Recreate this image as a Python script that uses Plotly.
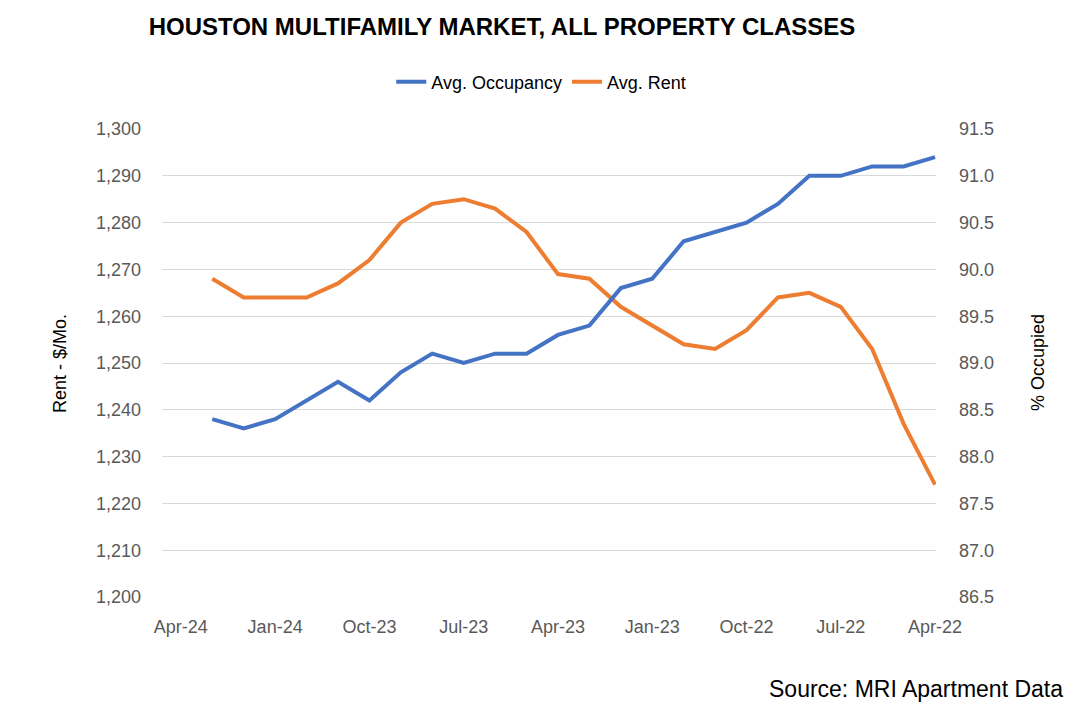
import plotly.graph_objects as go

# Monthly points, Apr-22 (index 0) through Mar-24 (index 23)
month_index = list(range(24))
avg_rent = [1224, 1237, 1253, 1262, 1265, 1264, 1257, 1253, 1254, 1258, 1262, 1268,
            1269, 1278, 1283, 1285, 1284, 1280, 1272, 1267, 1264, 1264, 1264, 1268]
avg_occupancy = [91.2, 91.1, 91.1, 91.0, 91.0, 90.7, 90.5, 90.4, 90.3, 89.9, 89.8, 89.4,
                 89.3, 89.1, 89.1, 89.0, 89.1, 88.9, 88.6, 88.8, 88.6, 88.4, 88.3, 88.4]
tick_positions = [0, 3, 6, 9, 12, 15, 18, 21, 24]
tick_labels = ["Apr-22", "Jul-22", "Oct-22", "Jan-23", "Apr-23", "Jul-23", "Oct-23", "Jan-24", "Apr-24"]

BLUE = "#4472C4"
ORANGE = "#ED7D31"
FONT = "Liberation Sans, Arial, sans-serif"
GREY = "#595959"

fig = go.Figure()
fig.add_trace(go.Scatter(x=month_index, y=avg_occupancy, name="Avg. Occupancy", mode="lines",
                         line=dict(color=BLUE, width=4), yaxis="y2"))
fig.add_trace(go.Scatter(x=month_index, y=avg_rent, name="Avg. Rent", mode="lines",
                         line=dict(color=ORANGE, width=4), yaxis="y"))

fig.update_layout(
    width=1082, height=710,
    margin=dict(l=154, r=154, t=121, b=121),
    paper_bgcolor="white", plot_bgcolor="white",
    font=dict(family=FONT, size=18, color=GREY),
    title=dict(text="<b>HOUSTON MULTIFAMILY MARKET, ALL PROPERTY CLASSES</b>",
               x=494 / 1082, xanchor="center", y=1 - 19 / 710, yanchor="middle",
               font=dict(family=FONT, size=24, color="black")),
    legend=dict(orientation="h", x=0.49, xanchor="center", y=(597 - 82) / 468, yanchor="middle",
                font=dict(size=18, color="black"), bgcolor="rgba(0,0,0,0)"),
    showlegend=True,
    xaxis=dict(range=[24.6, -0.03], tickmode="array", tickvals=tick_positions, ticktext=tick_labels,
               showgrid=False, zeroline=False, showline=False, ticks="",
               ticklabelstandoff=17, tickfont=dict(size=18, color=GREY)),
    yaxis=dict(range=[1200, 1300], dtick=10, tickformat=",", showgrid=True, gridcolor="#D9D9D9",
               gridwidth=1, zeroline=False, showline=False, ticks="", ticklabelstandoff=20,
               tickfont=dict(size=18, color=GREY)),
    yaxis2=dict(range=[86.5, 91.5], dtick=0.5, tickformat=".1f", overlaying="y", side="right",
                showgrid=False, zeroline=False, showline=False, ticks="", ticklabelstandoff=22,
                tickfont=dict(size=18, color=GREY)),
    annotations=[
        dict(text="Rent - $/Mo.", xref="paper", yref="paper", x=(60 - 162) / 774, y=0.5,
             textangle=-90, showarrow=False, xanchor="center", yanchor="middle",
             font=dict(size=18, color="black")),
        dict(text="% Occupied", xref="paper", yref="paper", x=(1038 - 162) / 774, y=0.5,
             textangle=-90, showarrow=False, xanchor="center", yanchor="middle",
             font=dict(size=18, color="black")),
        dict(text="Source: MRI Apartment Data", xref="paper", yref="paper",
             x=(1065 - 162) / 774, y=(597 - 689) / 468, showarrow=False,
             xanchor="right", yanchor="middle", font=dict(size=23, color="black")),
    ],
)

fig.write_html("out.html")
